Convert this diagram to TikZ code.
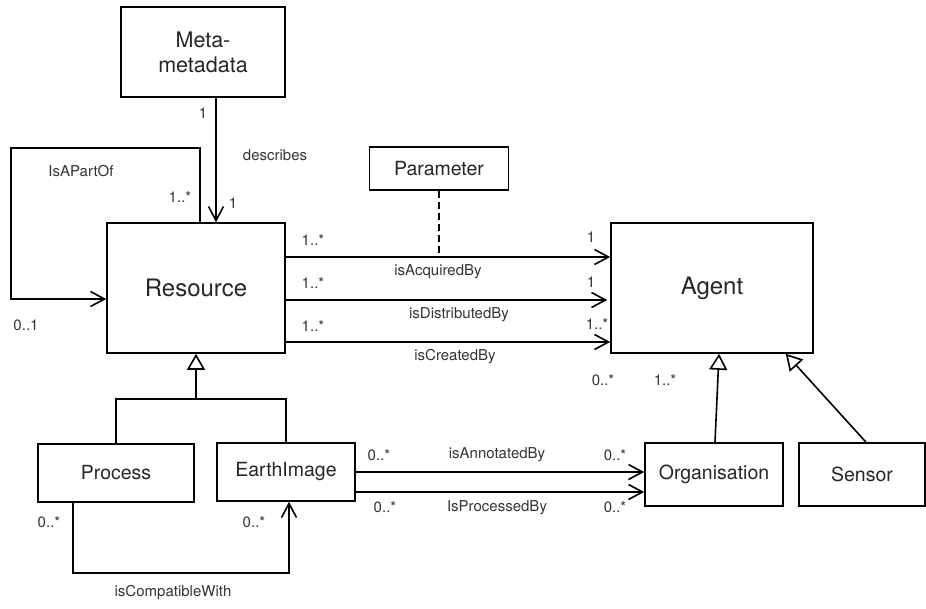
\documentclass[tikz,border=0pt]{standalone}
\usepackage{fontspec}
\setmainfont{TeX Gyre Heros}
\usetikzlibrary{arrows.meta,positioning}

\tikzset{
  box/.style={draw, line width=1.6pt, minimum width=#1, inner sep=0pt, align=center, text=black!85, font=\fontsize{19.5}{22}\selectfont},
  bigbox/.style={box=#1, font=\fontsize{24}{26}\selectfont},
  lbl/.style={inner sep=1pt, text=black!80, font=\fontsize{15}{17}\selectfont},
  assoc/.style={line width=1.6pt, -{Straight Barb[length=14pt,width=15pt,line width=1.6pt]}},
  gen/.style={line width=1.6pt, -{Triangle[open,length=16pt,width=18pt,line width=1.6pt,fill=white]}}
}

\begin{document}
\begin{tikzpicture}[x=1pt,y=-1pt]
			%%Location
			\useasboundingbox (0,0) rectangle (926,608);
			%%Classes
			\node[bigbox=164pt, minimum height=90pt, font=\fontsize{21.5}{25}\selectfont] (meta) at (203,52) {Meta-\\metadata};
			\node[bigbox=178pt, minimum height=130pt] (res) at (196,288) {Resource};
			\node[box=139pt, minimum height=43pt] (param) at (439,168.5) {Parameter};
			\node[bigbox=202pt, minimum height=130pt] (agent) at (712,288) {Agent};
			\node[box=156pt, minimum height=58pt] (process) at (116,473) {Process};
			\node[box=138pt, minimum height=58pt] (earth) at (286,472) {EarthImage};
			\node[box=138pt, minimum height=63pt] (org) at (714,474.5) {Organisation};
			\node[box=126pt, minimum height=63pt] (sensor) at (862,474.5) {Sensor};
			\coordinate (lp) at (11,148);
			\coordinate (jn) at (196,399);

			%%Self and meta
			\draw[assoc] ([xshift=4pt]res.north) |- (lp) |- ([yshift=-11pt]res.west);
			\draw[assoc] ([xshift=13pt]meta.south) -- ([xshift=20pt]res.north);

			%%Resource to Agent
			\draw[assoc] ([yshift=31pt]res.east) coordinate (a1) -- ([yshift=31pt]agent.west);
			\draw[assoc] ([yshift=-12pt]res.east) -- ([yshift=-12pt,xshift=-3pt]agent.west);
			\draw[assoc] ([yshift=-54pt]res.east) -- ([yshift=-54pt]agent.west);
			\draw[dashed, line width=1.6pt, dash pattern=on 7pt off 4pt] (param.south) -- (param.south |- a1);

			%%EarthImage to Organisation
			\draw[assoc] (earth.east) -- (earth.east -| org.west);
			\draw[assoc] ([yshift=-20pt]earth.east) -- ([yshift=-20pt]earth.east -| org.west);
			\draw[assoc] ([xshift=-43pt]process.south) -- ++(0,70) -| ([xshift=3pt]earth.south);

			%%Generalisation
			\draw[line width=1.6pt] (process.north) |- (jn) -| (earth.north);
			\draw[gen] (jn) -- (res.south);
			\draw[gen] ([xshift=1pt]org.north) -- ([xshift=7pt]agent.south);
			\draw[gen] ([xshift=4pt]sensor.north) -- ([xshift=-28pt]agent.south east);

			%%Label
			\node[lbl] (l1) at (203,113) {1};
			\node[lbl] (l2) at (275,155) {describes};
			\node[lbl] (l3) at (233,203) {1};
			\node[lbl] (l4) at (180,197) {1..*};
			\node[lbl] (l5) at (81,171) {IsAPartOf};
			\node[lbl] (l6) at (26,325) {0..1};
			\node[lbl] (l7) at (313,240) {1..*};
			\node[lbl] (l8) at (313,283) {1..*};
			\node[lbl] (l9) at (313,326) {1..*};
			\node[lbl] (l10) at (438,272) {isAcquiredBy};
			\node[lbl] (l11) at (459,315) {isDistributedBy};
			\node[lbl] (l12) at (455,357) {isCreatedBy};
			\node[lbl] (l13) at (591,237) {1};
			\node[lbl] (l14) at (591,282) {1};
			\node[lbl] (l15) at (597,324) {1..*};
			\node[lbl] (l16) at (603,380) {0..*};
			\node[lbl] (l17) at (665,380) {1..*};
			\node[lbl] (l18) at (379,455) {0..*};
			\node[lbl] (l19) at (497,455) {isAnnotatedBy};
			\node[lbl] (l20) at (615,455) {0..*};
			\node[lbl] (l21) at (385,507) {0..*};
			\node[lbl] (l22) at (497,508) {IsProcessedBy};
			\node[lbl] (l23) at (615,507) {0..*};
			\node[lbl] (l24) at (49,522) {0..*};
			\node[lbl] (l25) at (254,522) {0..*};
			\node[lbl] (l26) at (173,593) {isCompatibleWith};
\end{tikzpicture}
\end{document}
